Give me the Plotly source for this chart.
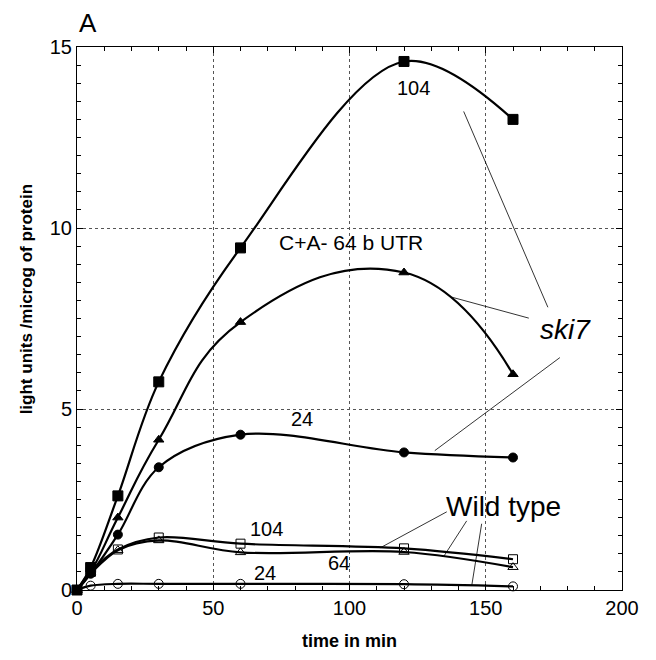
import plotly.graph_objects as go

time_min = [0, 5, 15, 30, 60, 120, 160]
ski7_104 = [0, 0.62, 2.6, 5.75, 9.45, 14.6, 13.0]
ski7_64 = [0, 0.5, 2.0, 4.15, 7.4, 8.77, 5.96]
ski7_24 = [0, 0.45, 1.53, 3.39, 4.29, 3.8, 3.66]
wt_104 = [0, 0.5, 1.12, 1.45, 1.28, 1.15, 0.85]
wt_64 = [0, 0.45, 1.1, 1.37, 1.04, 1.05, 0.63]
wt_24 = [0, 0.12, 0.17, 0.17, 0.17, 0.16, 0.1]

FONT = "Liberation Sans, Arial, Helvetica"

series = [
    (ski7_104, "square", 10, 1.0),
    (ski7_64, "triangle-up", 9, 1.3),
    (ski7_24, "circle", 9, 1.0),
    (wt_104, "square-open", 9, 1.0),
    (wt_64, "triangle-up-open", 9, 1.0),
    (wt_24, "circle-open", 9, 1.0),
]

fig = go.Figure()
for ys, sym, sz, sm in series:
    fig.add_trace(go.Scatter(
        x=time_min, y=ys, mode="lines+markers",
        line=dict(shape="spline", smoothing=sm, color="black", width=2.2),
        marker=dict(symbol=sym, size=sz, color="black", line=dict(color="black", width=1)),
        showlegend=False, cliponaxis=False,
    ))

labels = [
    ("104", 123.5, 13.88, 20),
    ("C+A- 64 b UTR", 100.4, 9.59, 21),
    ("24", 82.4, 4.73, 20),
    ("<i>ski7</i>", 179.4, 7.19, 28),
    ("Wild type", 156.6, 2.3, 28),
    ("104", 69.5, 1.69, 20),
    ("64", 96.3, 0.74, 20),
    ("24", 69.1, 0.46, 20),
]
for t, x, y, s in labels:
    fig.add_annotation(x=x, y=y, text=t, showarrow=False,
                       font=dict(family=FONT, size=s, color="black"))

leaders = [
    (141.9, 13.22, 172.8, 7.81),
    (137.5, 8.09, 165.8, 7.51),
    (177.2, 6.42, 131.3, 3.85),
    (135.7, 2.16, 111.4, 1.17),
    (143.0, 1.91, 134.6, 0.93),
    (148.5, 1.83, 144.9, 0.14),
]
for x0, y0, x1, y1 in leaders:
    fig.add_shape(type="line", x0=x0, y0=y0, x1=x1, y1=y1, xref="x", yref="y",
                  line=dict(color="black", width=0.8))

fig.add_annotation(x=0.0, y=1.044, xref="paper", yref="paper", text="A",
                   showarrow=False, xanchor="left", yanchor="middle",
                   font=dict(family=FONT, size=26, color="black"))

fig.add_annotation(x=-0.092, y=0.535, xref="paper", yref="paper",
                   text="<b>light units /microg of protein</b>", textangle=-90,
                   showarrow=False, xanchor="center", yanchor="middle",
                   font=dict(family=FONT, size=17, color="black"))

axis_common = dict(
    showline=True, linecolor="black", linewidth=1, mirror="ticks",
    ticks="inside", ticklen=6, tickcolor="black",
    showgrid=True, gridcolor="#555", griddash="dot", gridwidth=1,
    zeroline=False,
    tickfont=dict(family=FONT, size=20, color="black"),
)
fig.update_xaxes(range=[0, 200], dtick=50,
                 minor=dict(dtick=10, ticks="inside", ticklen=4, tickcolor="black", showgrid=False),
                 title=dict(text="<b>time in min</b>", standoff=16,
                            font=dict(family=FONT, size=18, color="black")),
                 **axis_common)
fig.update_yaxes(range=[0, 15], dtick=5,
                 minor=dict(dtick=0.5, ticks="inside", ticklen=4, tickcolor="black", showgrid=False),
                 **axis_common)

fig.update_layout(
    width=656, height=660,
    margin=dict(l=77, r=34, t=47, b=64),
    plot_bgcolor="white", paper_bgcolor="white",
)
fig.write_html("out.html", config={"displayModeBar": False},
               post_script="document.body.style.margin='0';document.body.style.overflow='hidden';")
